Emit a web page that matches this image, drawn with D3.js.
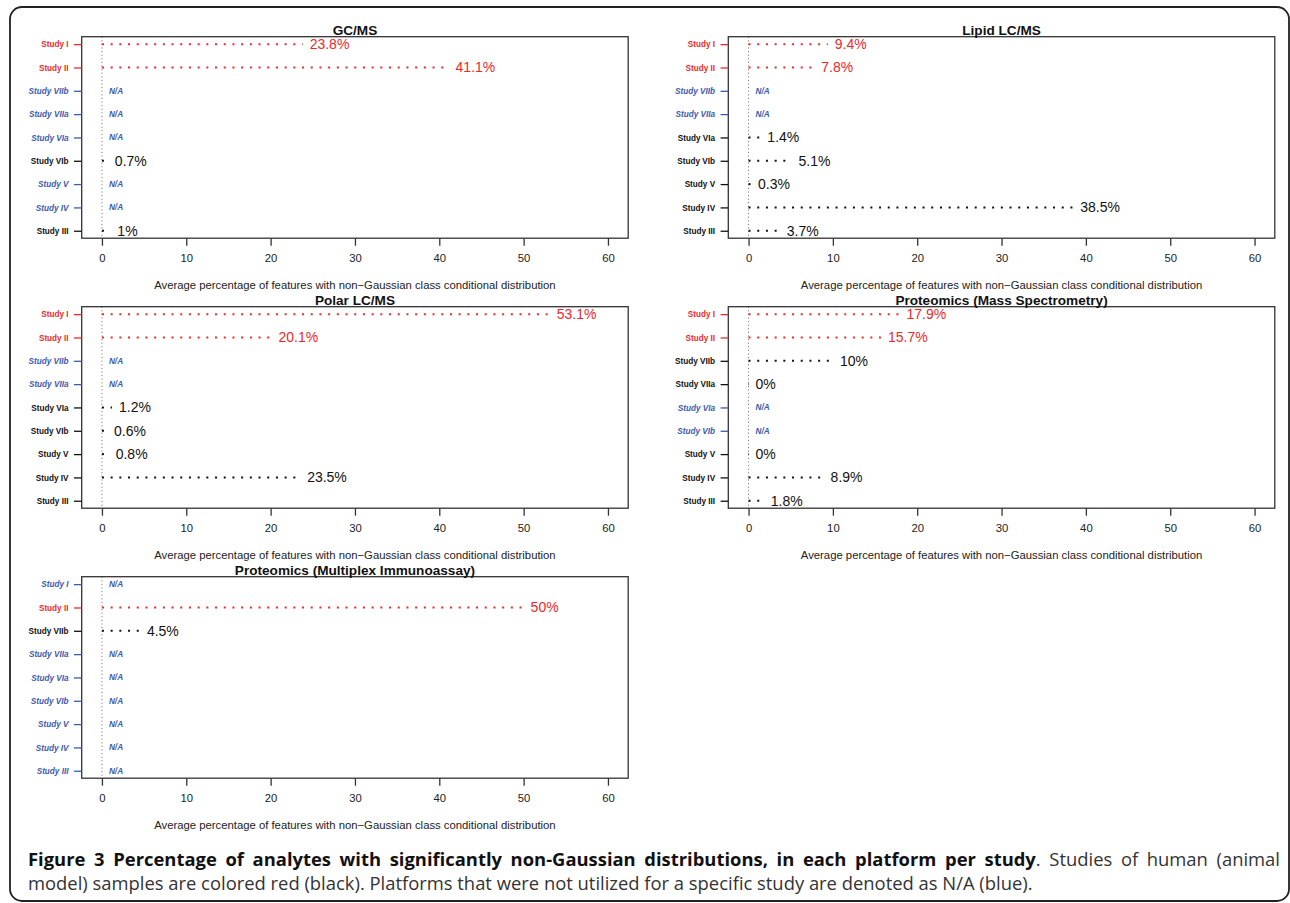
<!DOCTYPE html>
<html>
<head>
<meta charset="utf-8">
<script src="https://cdn.jsdelivr.net/npm/d3@7"></script>
<style>
  html, body { margin: 0; padding: 0; background: #fff; }
  svg { display: block; }
</style>
</head>
<body>
<script>
// Row order, top to bottom
const studies = ["Study I", "Study II", "Study VIIb", "Study VIIa", "Study VIa", "Study VIb", "Study V", "Study IV", "Study III"];
const xTicks = [0, 10, 20, 30, 40, 50, 60];
const xLimits = [0, 60];

// Average % of features with non-Gaussian class conditional distribution (null = not available)
const gcmsValues      = [23.8, 41.1, null, null, null, 0.7, null, null, 1];
const gcmsGroups      = ["human", "human", "na", "na", "na", "animal", "na", "na", "animal"];
const lipidValues     = [9.4, 7.8, null, null, 1.4, 5.1, 0.3, 38.5, 3.7];
const lipidGroups     = ["human", "human", "na", "na", "animal", "animal", "animal", "animal", "animal"];
const polarValues     = [53.1, 20.1, null, null, 1.2, 0.6, 0.8, 23.5, null];
const polarGroups     = ["human", "human", "na", "na", "animal", "animal", "animal", "animal", "animal"];
const protMsValues    = [17.9, 15.7, 10, 0, null, null, 0, 8.9, 1.8];
const protMsGroups    = ["human", "human", "animal", "animal", "na", "na", "animal", "animal", "animal"];
const multiplexValues = [null, 50, 4.5, null, null, null, null, null, null];
const multiplexGroups = ["na", "human", "animal", "na", "na", "na", "na", "na", "na"];

const panelTitles = ["GC/MS", "Lipid LC/MS", "Polar LC/MS", "Proteomics (Mass Spectrometry)", "Proteomics (Multiplex Immunoassay)"];
const panelValues = [gcmsValues, lipidValues, polarValues, protMsValues, multiplexValues];
const panelGroups = [gcmsGroups, lipidGroups, polarGroups, protMsGroups, multiplexGroups];

const axisTitle = "Average percentage of features with non\u2212Gaussian class conditional distribution";
const captionBold = "Figure 3 Percentage of analytes with significantly non-Gaussian distributions, in each platform per study";
const captionRest1 = ". Studies of human (animal";
const captionLine2 = "model) samples are colored red (black). Platforms that were not utilized for a specific study are denoted as N/A (blue).";

const groupColor = { human: "#f02828", animal: "#111111", na: "#3d5aad" };
const FONT = "'Liberation Sans', Arial, Helvetica, sans-serif";

const W = 1290, H = 903;
const svg = d3.select("body").append("svg").attr("width", W).attr("height", H);

// outer figure frame
svg.append("rect")
  .attr("x", 10).attr("y", 7)
  .attr("width", 1279).attr("height", 894)
  .attr("rx", 12).attr("ry", 12)
  .attr("fill", "none").attr("stroke", "#222").attr("stroke-width", 1.8);

const colLeft = [81.7, 728.3];
const rowTop = [36.7, 306.7, 576.7];
const boxW = 546.5, boxH = 201.5;

// R-style 4% range extension
function extend(lim) {
  const d = (lim[1] - lim[0]) * 0.04;
  return [lim[0] - d, lim[1] + d];
}

panelTitles.forEach((title, p) => {
  const left = colLeft[p % 2];
  const top = rowTop[Math.floor(p / 2)];
  const values = panelValues[p];
  const groups = panelGroups[p];
  const g = svg.append("g");

  const x = d3.scaleLinear().domain(extend(xLimits)).range([left, left + boxW]);
  const y = d3.scaleLinear().domain(extend([1, studies.length])).range([top + boxH, top]);
  const rowPos = i => y(studies.length - i);

  // reference line at zero
  g.append("line")
    .attr("x1", x(0)).attr("x2", x(0))
    .attr("y1", top).attr("y2", top + boxH)
    .attr("stroke", "#666").attr("stroke-width", 1)
    .attr("stroke-dasharray", "1,2.6");

  // dotted value lines
  studies.forEach((s, i) => {
    const v = values[i];
    if (v === null) return;
    g.append("line")
      .attr("x1", x(0)).attr("x2", Math.max(x(v), x(0) + 0.5))
      .attr("y1", rowPos(i)).attr("y2", rowPos(i))
      .attr("stroke", groupColor[groups[i]])
      .attr("stroke-width", 2)
      .attr("stroke-dasharray", "2,6.7");
  });

  // value labels
  studies.forEach((s, i) => {
    const v = values[i];
    const grp = groups[i];
    if (grp === "na") {
      g.append("text")
        .attr("x", x(0) + 7).attr("y", rowPos(i)).attr("dy", "0.35em")
        .attr("font-family", FONT).attr("font-size", 8.2)
        .attr("font-weight", "bold").attr("font-style", "italic")
        .attr("fill", groupColor.na)
        .text("N/A");
    } else if (v !== null) {
      g.append("text")
        .attr("x", x(v) + 7).attr("y", rowPos(i)).attr("dy", "0.35em")
        .attr("font-family", FONT).attr("font-size", 14)
        .attr("fill", groupColor[grp])
        .text(v + "%");
    }
  });

  // plot box
  g.append("rect")
    .attr("x", left).attr("y", top).attr("width", boxW).attr("height", boxH)
    .attr("fill", "none").attr("stroke", "#333").attr("stroke-width", 1.3);

  // bottom axis
  const xAxis = g.append("g")
    .attr("transform", `translate(0,${top + boxH})`)
    .call(d3.axisBottom(x).tickValues(xTicks).tickSize(7.5).tickFormat(d3.format("d")));
  xAxis.select(".domain").remove();
  xAxis.selectAll(".tick line").attr("stroke", "#333").attr("stroke-width", 1.3);
  xAxis.selectAll(".tick text")
    .attr("y", 20).attr("dy", "0.35em")
    .attr("font-family", FONT).attr("font-size", 11.3).attr("fill", "#222");

  // left axis with study names
  const yAxis = g.append("g")
    .attr("transform", `translate(${left},0)`)
    .call(d3.axisLeft(y)
      .tickValues(studies.map((s, i) => studies.length - i))
      .tickFormat(d => studies[studies.length - d])
      .tickSize(7.7).tickPadding(5.5));
  yAxis.select(".domain").remove();
  yAxis.selectAll(".tick").each(function (d) {
    const i = studies.length - d;
    const col = groupColor[groups[i]];
    const t = d3.select(this);
    t.select("line").attr("stroke", col).attr("stroke-width", 1.3);
    t.select("text")
      .attr("font-family", FONT).attr("font-size", 8.2).attr("font-weight", "bold")
      .attr("font-style", groups[i] === "na" ? "italic" : "normal")
      .attr("fill", col);
  });

  // panel title
  g.append("text")
    .attr("x", left + boxW / 2).attr("y", top - 1.6)
    .attr("text-anchor", "middle")
    .attr("font-family", FONT).attr("font-size", 13.6).attr("font-weight", "bold")
    .attr("fill", "#111")
    .text(title);

  // x-axis title
  g.append("text")
    .attr("x", left + boxW / 2).attr("y", top + boxH + 51)
    .attr("text-anchor", "middle")
    .attr("font-family", FONT).attr("font-size", 11.3)
    .attr("fill", "#222")
    .text(axisTitle);
});

// caption
const CAP = "'Open Sans', 'Noto Sans', sans-serif";
const cap1 = svg.append("text")
  .attr("x", 28).attr("y", 866)
  .attr("font-family", CAP).attr("font-size", 18.4).attr("fill", "#333");
cap1.append("tspan").attr("font-weight", "bold").attr("fill", "#111").text(captionBold);
cap1.append("tspan").text(captionRest1);

// justify the first caption line between the margins
const target = 1280 - 28;
const natural = cap1.node().getComputedTextLength();
const spaces = (captionBold + captionRest1).split(" ").length - 1;
cap1.attr("word-spacing", (target - natural) / spaces);

svg.append("text")
  .attr("x", 28).attr("y", 890)
  .attr("font-family", CAP).attr("font-size", 18.4).attr("fill", "#333")
  .text(captionLine2);
</script>
</body>
</html>
